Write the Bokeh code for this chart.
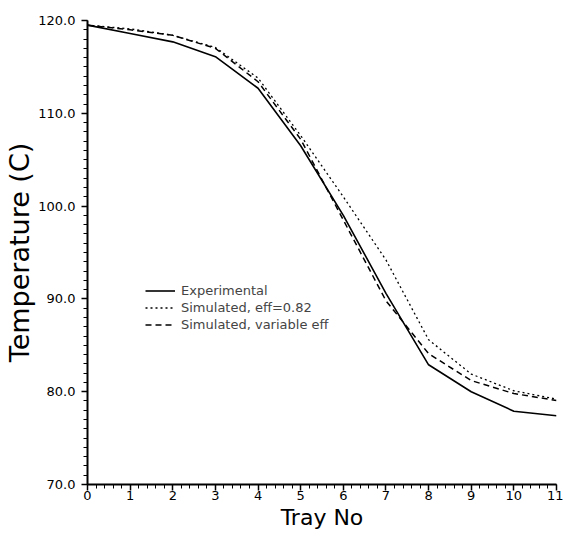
from bokeh.plotting import figure
from bokeh.models import FixedTicker, Legend, LegendItem, Range1d, PrintfTickFormatter
from bokeh.embed import file_html
from bokeh.resources import INLINE

# ---- data ----
tray = [0, 1, 2, 3, 4, 5, 6, 7, 8, 9, 10, 11]
experimental = [119.5, 118.6, 117.7, 116.1, 112.7, 106.5, 99.0, 90.6, 82.9, 80.0, 77.9, 77.4]
sim_eff_082 = [119.5, 119.1, 118.4, 117.1, 113.8, 107.6, 101.0, 94.2, 85.6, 81.9, 80.1, 79.2]
sim_var_eff = [119.5, 119.0, 118.4, 117.0, 113.4, 107.2, 98.5, 89.8, 84.1, 81.2, 79.8, 79.05]

x_major = [0, 1, 2, 3, 4, 5, 6, 7, 8, 9, 10, 11]
x_minor = [i / 5 for i in range(0, 56)]
y_major = [70, 80, 90, 100, 110, 120]
y_minor = list(range(70, 121))

labels = ["Experimental", "Simulated, eff=0.82", "Simulated, variable eff"]

FONT = "DejaVu Sans"

p = figure(width=563, height=536, output_backend="svg", toolbar_location=None,
           x_range=Range1d(0, 11), y_range=Range1d(70, 120),
           min_border_left=87, min_border_right=7, min_border_top=20, min_border_bottom=52)
p.outline_line_color = None
p.grid.visible = False
p.background_fill_color = "white"
p.border_fill_color = "white"

for ax in (p.xaxis[0], p.yaxis[0]):
    ax.axis_line_width = 2
    ax.axis_line_color = "black"
    ax.major_tick_line_color = "black"
    ax.minor_tick_line_color = "black"
    ax.major_tick_line_width = 1.5
    ax.minor_tick_line_width = 1
    ax.major_tick_in = 0
    ax.minor_tick_in = 0
    ax.major_label_text_font = FONT
    ax.major_label_text_font_size = "13px"
    ax.major_label_text_color = "black"
    ax.axis_label_text_font = FONT
    ax.axis_label_text_font_style = "normal"
    ax.axis_label_text_color = "black"

p.xaxis.ticker = FixedTicker(ticks=x_major, minor_ticks=x_minor)
p.yaxis.ticker = FixedTicker(ticks=y_major, minor_ticks=y_minor)
p.yaxis.formatter = PrintfTickFormatter(format="%.1f")

p.xaxis.major_tick_out = 6
p.xaxis.minor_tick_out = 4
p.yaxis.major_tick_out = 6
p.yaxis.minor_tick_out = 4
p.xaxis.major_label_standoff = 0
p.yaxis.major_label_standoff = 6

p.xaxis.axis_label = "Tray No"
p.xaxis.axis_label_text_font_size = "22px"
p.xaxis.axis_label_standoff = 2
p.yaxis.axis_label = "Temperature (C)"
p.yaxis.axis_label_text_font_size = "27px"
p.yaxis.axis_label_standoff = 0

r1 = p.line(tray, experimental, line_color="black", line_width=1.6)
r2 = p.line(tray, sim_eff_082, line_color="black", line_width=1.3, line_dash="2 3")
r3 = p.line(tray, sim_var_eff, line_color="black", line_width=1.5, line_dash="6 4")

legend = Legend(items=[LegendItem(label=labels[0], renderers=[r1]),
                       LegendItem(label=labels[1], renderers=[r2]),
                       LegendItem(label=labels[2], renderers=[r3])],
                location=(58, 151), orientation="vertical",
                background_fill_alpha=0, border_line_alpha=0,
                label_text_font=FONT, label_text_font_size="13px",
                glyph_width=30, glyph_height=17, label_height=17,
                spacing=0, padding=0, margin=0, label_standoff=6)
p.add_layout(legend)

open("out.html", "w").write(file_html(p, INLINE))
